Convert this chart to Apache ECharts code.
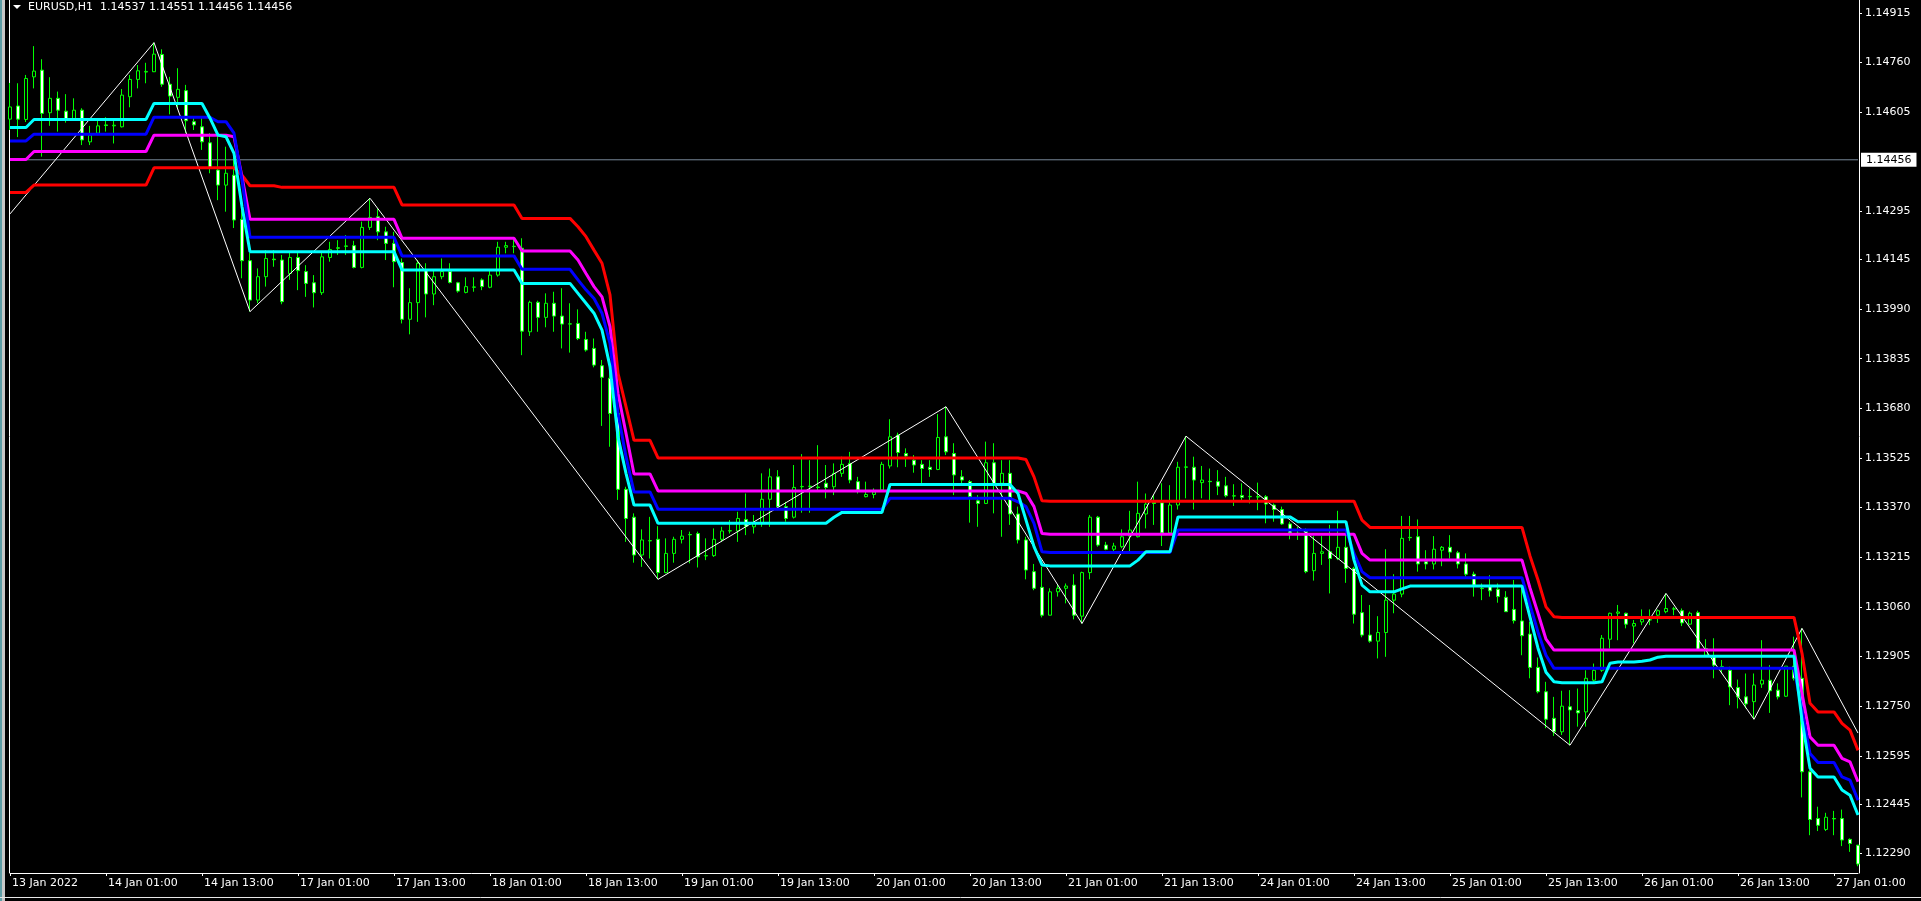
<!DOCTYPE html>
<html><head><meta charset="utf-8">
<script src="https://cdn.jsdelivr.net/npm/echarts/dist/echarts.min.js"></script>
<style>html,body{margin:0;padding:0;background:#000;overflow:hidden}#c{width:1921px;height:901px}</style>
</head><body><div id="c"></div>
<script>
const symbolName = 'EURUSD,H1';
const headerOHLC = [1.14537, 1.14551, 1.14456, 1.14456];
const bidPrice = 1.14456;
const xTickLabels = ['13 Jan 2022','14 Jan 01:00','14 Jan 13:00','17 Jan 01:00','17 Jan 13:00','18 Jan 01:00','18 Jan 13:00','19 Jan 01:00','19 Jan 13:00','20 Jan 01:00','20 Jan 13:00','21 Jan 01:00','21 Jan 13:00','24 Jan 01:00','24 Jan 13:00','25 Jan 01:00','25 Jan 13:00','26 Jan 01:00','26 Jan 13:00','27 Jan 01:00'];
const yTickValues = [1.14915,1.14760,1.14605,1.14295,1.14145,1.13990,1.13835,1.13680,1.13525,1.13370,1.13215,1.13060,1.12905,1.12750,1.12595,1.12445,1.12290];

const opens = [
1.14583,1.14624,1.14582,1.14715,1.14736,1.14603,1.14648,1.14608,1.14584,1.14611,
1.14512,1.14539,1.14565,1.14562,1.14559,1.14653,1.14707,1.14730,1.14731,1.14785,
1.14692,1.14651,1.14672,1.14575,1.14559,1.14509,1.14424,1.14377,1.14408,1.14270,
1.14141,1.14018,1.14091,1.14146,1.14143,1.14101,1.14151,1.14107,1.14072,1.14041,
1.14151,1.14181,1.14187,1.14188,1.14120,1.14245,1.14278,1.14231,1.14195,1.14135,
1.13958,1.14010,1.14112,1.14037,1.14091,1.14107,1.14072,1.14042,1.14058,1.14081,
1.14058,1.14096,1.14183,1.14185,1.14180,1.13919,1.14011,1.13964,1.14008,1.13968,
1.13943,1.13945,1.13895,1.13867,1.13813,1.13774,1.13664,1.13427,1.13340,1.13222,
1.13266,1.13271,1.13167,1.13227,1.13271,1.13286,1.13289,1.13220,1.13220,1.13271,
1.13297,1.13297,1.13333,1.13310,1.13321,1.13396,1.13466,1.13373,1.13340,1.13435,
1.13437,1.13434,1.13446,1.13435,1.13477,1.13508,1.13451,1.13404,1.13411,1.13425,
1.13500,1.13596,1.13539,1.13518,1.13505,1.13496,1.13489,1.13591,1.13539,1.13466,
1.13451,1.13391,1.13383,1.13510,1.13446,1.13477,1.13350,1.13269,1.13170,1.13121,
1.13034,1.13107,1.13118,1.13128,1.13031,1.13167,1.13340,1.13253,1.13240,1.13248,
1.13281,1.13279,1.13350,1.13386,1.13385,1.13291,1.13378,1.13496,1.13496,1.13448,
1.13452,1.13451,1.13438,1.13406,1.13408,1.13404,1.13404,1.13404,1.13378,1.13364,
1.13319,1.13289,1.13295,1.13173,1.13227,1.13232,1.13211,1.13246,1.13180,1.13042,
1.12972,1.12953,1.12980,1.13081,1.13100,1.13277,1.13279,1.13201,1.13194,1.13237,
1.13246,1.13229,1.13194,1.13162,1.13118,1.13126,1.13115,1.13090,1.13052,1.13016,
1.12975,1.12871,1.12795,1.12712,1.12670,1.12748,1.12736,1.12732,1.12831,1.12862,
1.12959,1.13040,1.13040,1.13000,1.13013,1.13019,1.13034,1.13045,1.13053,1.13048,
1.13006,1.13042,1.12909,1.12904,1.12873,1.12862,1.12808,1.12779,1.12764,1.12819,
1.12831,1.12800,1.12781,1.12875,1.12837,1.12545,1.12399,1.12365,1.12399,1.12399,
1.12334,1.12316];
const closes = [
1.14621,1.14583,1.14710,1.14733,1.14601,1.14648,1.14611,1.14584,1.14611,1.14518,
1.14533,1.14562,1.14563,1.14564,1.14658,1.14707,1.14734,1.14732,1.14786,1.14692,
1.14655,1.14676,1.14578,1.14565,1.14512,1.14429,1.14377,1.14414,1.14268,1.14141,
1.14018,1.14091,1.14148,1.14144,1.14013,1.14151,1.14110,1.14070,1.14041,1.14153,
1.14176,1.14180,1.14186,1.14120,1.14245,1.14276,1.14231,1.14195,1.14138,1.13958,
1.14010,1.14133,1.14037,1.14091,1.14107,1.14073,1.14046,1.14060,1.14059,1.14060,
1.14096,1.14183,1.14188,1.14186,1.13921,1.14011,1.13964,1.14008,1.13968,1.13943,
1.13944,1.13898,1.13862,1.13815,1.13777,1.13664,1.13427,1.13336,1.13222,1.13269,
1.13267,1.13167,1.13227,1.13271,1.13281,1.13285,1.13216,1.13219,1.13271,1.13297,
1.13298,1.13336,1.13312,1.13321,1.13396,1.13466,1.13373,1.13336,1.13433,1.13436,
1.13436,1.13433,1.13433,1.13477,1.13505,1.13456,1.13425,1.13411,1.13419,1.13505,
1.13591,1.13542,1.13531,1.13503,1.13492,1.13489,1.13589,1.13544,1.13472,1.13456,
1.13404,1.13383,1.13510,1.13444,1.13477,1.13350,1.13269,1.13175,1.13118,1.13034,
1.13107,1.13118,1.13125,1.13034,1.13167,1.13340,1.13253,1.13240,1.13250,1.13279,
1.13300,1.13352,1.13381,1.13383,1.13291,1.13378,1.13496,1.13497,1.13456,1.13456,
1.13451,1.13437,1.13407,1.13407,1.13402,1.13405,1.13403,1.13381,1.13364,1.13319,
1.13291,1.13290,1.13170,1.13227,1.13232,1.13211,1.13246,1.13180,1.13037,1.12972,
1.12953,1.12980,1.13081,1.13100,1.13274,1.13276,1.13194,1.13194,1.13240,1.13246,
1.13231,1.13194,1.13162,1.13128,1.13117,1.13110,1.13092,1.13045,1.13017,1.12970,
1.12871,1.12795,1.12709,1.12670,1.12750,1.12738,1.12729,1.12837,1.12862,1.12962,
1.13040,1.13044,1.13006,1.13008,1.13021,1.13020,1.13048,1.13055,1.13054,1.13010,
1.13040,1.12927,1.12930,1.12878,1.12874,1.12810,1.12779,1.12757,1.12816,1.12831,
1.12798,1.12779,1.12875,1.12837,1.12545,1.12396,1.12378,1.12403,1.12398,1.12332,
1.12321,1.12257];
const lows = [
1.14549,1.14527,1.14574,1.14679,1.14466,1.14562,1.14544,1.14572,1.14580,1.14502,
1.14502,1.14533,1.14544,1.14507,1.14557,1.14620,1.14679,1.14695,1.14730,1.14684,
1.14598,1.14614,1.14539,1.14549,1.14487,1.14414,1.14330,1.14294,1.14243,1.14086,
1.13982,1.14008,1.14060,1.14122,1.14005,1.14081,1.14049,1.14028,1.13995,1.14034,
1.14138,1.14159,1.14159,1.14117,1.14117,1.14237,1.14205,1.14143,1.14058,1.13945,
1.13911,1.13950,1.13964,1.14002,1.14083,1.14070,1.14041,1.14039,1.14044,1.14049,
1.14055,1.14091,1.14164,1.14164,1.13846,1.13906,1.13919,1.13933,1.13919,1.13867,
1.13854,1.13893,1.13857,1.13808,1.13625,1.13560,1.13394,1.13263,1.13198,1.13185,
1.13211,1.13146,1.13165,1.13198,1.13258,1.13196,1.13183,1.13206,1.13216,1.13263,
1.13289,1.13263,1.13284,1.13289,1.13310,1.13310,1.13362,1.13326,1.13336,1.13354,
1.13354,1.13425,1.13399,1.13409,1.13466,1.13446,1.13414,1.13402,1.13399,1.13425,
1.13492,1.13496,1.13497,1.13479,1.13446,1.13466,1.13487,1.13534,1.13409,1.13446,
1.13323,1.13310,1.13381,1.13352,1.13279,1.13316,1.13258,1.13146,1.13112,1.13027,
1.13034,1.13092,1.13071,1.13021,1.13008,1.13146,1.13248,1.13237,1.13227,1.13243,
1.13227,1.13277,1.13305,1.13316,1.13250,1.13284,1.13364,1.13399,1.13364,1.13399,
1.13393,1.13409,1.13402,1.13375,1.13393,1.13383,1.13362,1.13321,1.13326,1.13316,
1.13271,1.13269,1.13165,1.13142,1.13191,1.13102,1.13206,1.13135,1.13008,1.12965,
1.12948,1.12899,1.12904,1.13040,1.13090,1.13266,1.13170,1.13177,1.13177,1.13187,
1.13211,1.13180,1.13154,1.13092,1.13081,1.13092,1.13073,1.13045,1.13008,1.12909,
1.12837,1.12790,1.12681,1.12657,1.12660,1.12628,1.12686,1.12686,1.12826,1.12857,
1.12930,1.12956,1.12993,1.12946,1.13003,1.13003,1.13010,1.13040,1.13034,1.13000,
1.13003,1.12925,1.12904,1.12837,1.12852,1.12753,1.12743,1.12743,1.12709,1.12807,
1.12729,1.12771,1.12779,1.12830,1.12465,1.12347,1.12360,1.12360,1.12347,1.12313,
1.12295,1.12250];
const highs = [
1.14696,1.14695,1.14721,1.14811,1.14770,1.14714,1.14669,1.14661,1.14648,1.14617,
1.14562,1.14580,1.14589,1.14580,1.14677,1.14721,1.14752,1.14759,1.14822,1.14801,
1.14715,1.14742,1.14690,1.14586,1.14586,1.14539,1.14539,1.14497,1.14487,1.14330,
1.14165,1.14117,1.14174,1.14174,1.14159,1.14169,1.14169,1.14127,1.14096,1.14169,
1.14200,1.14205,1.14221,1.14203,1.14263,1.14336,1.14304,1.14247,1.14231,1.14148,
1.14055,1.14143,1.14133,1.14112,1.14148,1.14133,1.14075,1.14089,1.14089,1.14086,
1.14112,1.14200,1.14200,1.14208,1.14211,1.14016,1.14016,1.14039,1.14044,1.14055,
1.14008,1.13989,1.13919,1.13898,1.13831,1.13800,1.13665,1.13435,1.13352,1.13302,
1.13341,1.13312,1.13274,1.13279,1.13300,1.13295,1.13295,1.13274,1.13305,1.13310,
1.13331,1.13357,1.13414,1.13347,1.13477,1.13492,1.13487,1.13388,1.13503,1.13537,
1.13518,1.13565,1.13503,1.13508,1.13529,1.13544,1.13466,1.13451,1.13430,1.13513,
1.13646,1.13604,1.13555,1.13534,1.13518,1.13518,1.13662,1.13685,1.13571,1.13487,
1.13456,1.13409,1.13576,1.13571,1.13518,1.13518,1.13373,1.13279,1.13194,1.13185,
1.13118,1.13131,1.13133,1.13162,1.13170,1.13347,1.13344,1.13263,1.13260,1.13302,
1.13360,1.13451,1.13414,1.13409,1.13446,1.13440,1.13513,1.13593,1.13529,1.13500,
1.13492,1.13487,1.13466,1.13443,1.13446,1.13430,1.13448,1.13409,1.13383,1.13373,
1.13326,1.13310,1.13305,1.13281,1.13281,1.13316,1.13360,1.13289,1.13185,1.13097,
1.13066,1.13031,1.13240,1.13162,1.13344,1.13344,1.13333,1.13237,1.13281,1.13250,
1.13284,1.13235,1.13227,1.13170,1.13133,1.13159,1.13133,1.13109,1.13144,1.13118,
1.13013,1.12902,1.12826,1.12779,1.12798,1.12800,1.12805,1.12862,1.12883,1.12972,
1.13042,1.13066,1.13042,1.13019,1.13052,1.13052,1.13052,1.13102,1.13060,1.13055,
1.13045,1.13048,1.12959,1.12962,1.12894,1.12873,1.12833,1.12852,1.12852,1.12956,
1.12878,1.12821,1.12875,1.12967,1.12993,1.12550,1.12436,1.12417,1.12423,1.12427,
1.12337,1.12316];

const redLine = [
1.14354,1.14354,1.14354,1.14377,1.14377,1.14377,1.14377,1.14377,1.14377,1.14377,
1.14377,1.14377,1.14377,1.14377,1.14377,1.14377,1.14377,1.14377,1.14431,1.14431,
1.14431,1.14431,1.14431,1.14431,1.14431,1.14431,1.14431,1.14431,1.14431,1.14408,
1.14375,1.14375,1.14375,1.14375,1.14370,1.14370,1.14370,1.14370,1.14370,1.14370,
1.14370,1.14370,1.14370,1.14370,1.14370,1.14370,1.14370,1.14370,1.14370,1.14315,
1.14315,1.14315,1.14315,1.14315,1.14315,1.14315,1.14315,1.14315,1.14315,1.14315,
1.14315,1.14315,1.14315,1.14315,1.14273,1.14273,1.14273,1.14273,1.14273,1.14273,
1.14273,1.14247,1.14216,1.14174,1.14133,1.14034,1.13789,1.13685,1.13580,1.13580,
1.13580,1.13525,1.13525,1.13525,1.13525,1.13525,1.13525,1.13525,1.13525,1.13525,
1.13525,1.13525,1.13525,1.13525,1.13525,1.13525,1.13525,1.13525,1.13525,1.13525,
1.13525,1.13525,1.13525,1.13525,1.13525,1.13525,1.13525,1.13525,1.13525,1.13525,
1.13525,1.13525,1.13525,1.13525,1.13525,1.13525,1.13525,1.13525,1.13525,1.13525,
1.13525,1.13525,1.13525,1.13525,1.13525,1.13525,1.13525,1.13520,1.13466,1.13391,
1.13390,1.13390,1.13390,1.13390,1.13390,1.13390,1.13390,1.13390,1.13390,1.13390,
1.13390,1.13390,1.13390,1.13390,1.13390,1.13390,1.13390,1.13390,1.13390,1.13390,
1.13390,1.13390,1.13390,1.13390,1.13390,1.13390,1.13390,1.13390,1.13390,1.13390,
1.13390,1.13390,1.13390,1.13390,1.13390,1.13390,1.13390,1.13390,1.13390,1.13331,
1.13308,1.13308,1.13308,1.13308,1.13308,1.13308,1.13308,1.13308,1.13308,1.13308,
1.13308,1.13308,1.13308,1.13308,1.13308,1.13308,1.13308,1.13308,1.13308,1.13308,
1.13219,1.13144,1.13060,1.13029,1.13027,1.13027,1.13027,1.13027,1.13027,1.13027,
1.13027,1.13027,1.13027,1.13027,1.13027,1.13027,1.13027,1.13027,1.13027,1.13027,
1.13027,1.13027,1.13027,1.13027,1.13027,1.13027,1.13027,1.13027,1.13027,1.13027,
1.13027,1.13027,1.13027,1.13027,1.12915,1.12759,1.12732,1.12732,1.12732,1.12696,
1.12675,1.12612];
const magentaLine = [
1.14457,1.14457,1.14457,1.14482,1.14482,1.14482,1.14482,1.14482,1.14482,1.14482,
1.14482,1.14482,1.14482,1.14482,1.14482,1.14482,1.14482,1.14482,1.14533,1.14533,
1.14533,1.14533,1.14533,1.14533,1.14533,1.14533,1.14533,1.14533,1.14528,1.14403,
1.14270,1.14270,1.14270,1.14270,1.14270,1.14270,1.14270,1.14270,1.14270,1.14270,
1.14270,1.14270,1.14270,1.14270,1.14270,1.14270,1.14270,1.14270,1.14270,1.14211,
1.14211,1.14211,1.14211,1.14211,1.14211,1.14211,1.14211,1.14211,1.14211,1.14211,
1.14211,1.14211,1.14211,1.14211,1.14171,1.14171,1.14171,1.14171,1.14171,1.14171,
1.14171,1.14143,1.14101,1.14060,1.14028,1.13935,1.13727,1.13602,1.13475,1.13475,
1.13475,1.13422,1.13422,1.13422,1.13422,1.13422,1.13422,1.13422,1.13422,1.13422,
1.13422,1.13422,1.13422,1.13422,1.13422,1.13422,1.13422,1.13422,1.13422,1.13422,
1.13422,1.13422,1.13422,1.13422,1.13422,1.13422,1.13422,1.13422,1.13422,1.13422,
1.13422,1.13422,1.13422,1.13422,1.13422,1.13422,1.13422,1.13422,1.13422,1.13422,
1.13422,1.13422,1.13422,1.13422,1.13422,1.13422,1.13422,1.13414,1.13373,1.13289,
1.13287,1.13287,1.13287,1.13287,1.13287,1.13287,1.13287,1.13287,1.13287,1.13287,
1.13287,1.13287,1.13287,1.13287,1.13287,1.13287,1.13287,1.13287,1.13287,1.13287,
1.13287,1.13287,1.13287,1.13287,1.13287,1.13287,1.13287,1.13287,1.13287,1.13287,
1.13287,1.13287,1.13287,1.13287,1.13287,1.13287,1.13287,1.13287,1.13287,1.13227,
1.13206,1.13206,1.13206,1.13206,1.13206,1.13206,1.13206,1.13206,1.13206,1.13206,
1.13206,1.13206,1.13206,1.13206,1.13206,1.13206,1.13206,1.13206,1.13206,1.13206,
1.13119,1.13040,1.12959,1.12925,1.12925,1.12925,1.12925,1.12925,1.12925,1.12925,
1.12925,1.12925,1.12925,1.12925,1.12925,1.12925,1.12925,1.12925,1.12925,1.12925,
1.12925,1.12925,1.12925,1.12925,1.12925,1.12925,1.12925,1.12925,1.12925,1.12925,
1.12925,1.12925,1.12925,1.12925,1.12790,1.12654,1.12628,1.12628,1.12628,1.12587,
1.12576,1.12514];
const blueLine = [
1.14515,1.14515,1.14515,1.14536,1.14536,1.14536,1.14536,1.14536,1.14536,1.14536,
1.14536,1.14536,1.14536,1.14536,1.14536,1.14536,1.14536,1.14536,1.14589,1.14589,
1.14589,1.14589,1.14589,1.14589,1.14589,1.14589,1.14575,1.14575,1.14539,1.14393,
1.14214,1.14214,1.14214,1.14214,1.14214,1.14214,1.14214,1.14214,1.14214,1.14214,
1.14214,1.14214,1.14214,1.14214,1.14214,1.14214,1.14214,1.14214,1.14214,1.14156,
1.14156,1.14156,1.14156,1.14156,1.14156,1.14156,1.14156,1.14156,1.14156,1.14156,
1.14156,1.14156,1.14156,1.14156,1.14114,1.14114,1.14114,1.14114,1.14114,1.14114,
1.14114,1.14081,1.14050,1.14023,1.13977,1.13883,1.13664,1.13529,1.13419,1.13419,
1.13419,1.13365,1.13365,1.13365,1.13365,1.13365,1.13365,1.13365,1.13365,1.13365,
1.13365,1.13365,1.13365,1.13365,1.13365,1.13365,1.13365,1.13365,1.13365,1.13365,
1.13365,1.13365,1.13365,1.13365,1.13365,1.13365,1.13365,1.13365,1.13365,1.13365,
1.13399,1.13399,1.13399,1.13399,1.13399,1.13399,1.13399,1.13399,1.13399,1.13399,
1.13399,1.13399,1.13399,1.13399,1.13399,1.13399,1.13388,1.13373,1.13321,1.13232,
1.13230,1.13230,1.13230,1.13230,1.13230,1.13230,1.13230,1.13230,1.13230,1.13230,
1.13230,1.13230,1.13230,1.13230,1.13230,1.13230,1.13300,1.13300,1.13300,1.13300,
1.13300,1.13300,1.13300,1.13300,1.13300,1.13300,1.13300,1.13300,1.13300,1.13300,
1.13300,1.13300,1.13300,1.13300,1.13300,1.13300,1.13300,1.13300,1.13227,1.13170,
1.13151,1.13151,1.13151,1.13151,1.13151,1.13151,1.13151,1.13151,1.13151,1.13151,
1.13151,1.13151,1.13151,1.13151,1.13151,1.13151,1.13151,1.13151,1.13151,1.13151,
1.13066,1.12981,1.12909,1.12868,1.12868,1.12868,1.12868,1.12868,1.12868,1.12868,
1.12868,1.12868,1.12868,1.12868,1.12868,1.12868,1.12868,1.12868,1.12868,1.12868,
1.12868,1.12868,1.12868,1.12868,1.12868,1.12868,1.12868,1.12868,1.12868,1.12868,
1.12868,1.12868,1.12868,1.12868,1.12738,1.12602,1.12574,1.12574,1.12574,1.12529,
1.12519,1.12456];
const cyanLine = [
1.14557,1.14557,1.14557,1.14582,1.14582,1.14582,1.14582,1.14582,1.14582,1.14582,
1.14582,1.14582,1.14582,1.14582,1.14582,1.14582,1.14582,1.14582,1.14632,1.14632,
1.14632,1.14632,1.14632,1.14632,1.14632,1.14586,1.14533,1.14528,1.14476,1.14310,
1.14169,1.14169,1.14169,1.14169,1.14169,1.14169,1.14169,1.14169,1.14169,1.14169,
1.14169,1.14169,1.14169,1.14169,1.14169,1.14169,1.14169,1.14169,1.14169,1.14112,
1.14112,1.14112,1.14112,1.14112,1.14112,1.14112,1.14112,1.14112,1.14112,1.14112,
1.14112,1.14112,1.14112,1.14112,1.14070,1.14070,1.14070,1.14070,1.14070,1.14070,
1.14070,1.14039,1.14008,1.13977,1.13924,1.13810,1.13591,1.13477,1.13378,1.13378,
1.13378,1.13321,1.13321,1.13321,1.13321,1.13321,1.13321,1.13321,1.13321,1.13321,
1.13321,1.13321,1.13321,1.13321,1.13321,1.13321,1.13321,1.13321,1.13321,1.13321,
1.13321,1.13321,1.13321,1.13340,1.13355,1.13355,1.13355,1.13355,1.13355,1.13355,
1.13442,1.13442,1.13442,1.13442,1.13442,1.13442,1.13442,1.13442,1.13442,1.13442,
1.13442,1.13442,1.13442,1.13442,1.13442,1.13442,1.13414,1.13331,1.13248,1.13191,
1.13188,1.13188,1.13188,1.13188,1.13188,1.13188,1.13188,1.13188,1.13188,1.13188,
1.13188,1.13206,1.13232,1.13232,1.13232,1.13232,1.13341,1.13341,1.13341,1.13341,
1.13341,1.13341,1.13341,1.13341,1.13341,1.13341,1.13341,1.13341,1.13341,1.13341,
1.13341,1.13326,1.13326,1.13326,1.13326,1.13326,1.13326,1.13326,1.13206,1.13128,
1.13107,1.13107,1.13107,1.13107,1.13116,1.13125,1.13125,1.13125,1.13125,1.13125,
1.13125,1.13125,1.13125,1.13125,1.13125,1.13125,1.13125,1.13125,1.13125,1.13125,
1.13028,1.12931,1.12856,1.12826,1.12823,1.12823,1.12823,1.12823,1.12823,1.12826,
1.12884,1.12888,1.12888,1.12888,1.12890,1.12894,1.12903,1.12906,1.12906,1.12906,
1.12906,1.12906,1.12906,1.12906,1.12906,1.12906,1.12906,1.12906,1.12906,1.12906,
1.12906,1.12906,1.12906,1.12906,1.12706,1.12556,1.12529,1.12529,1.12529,1.12488,
1.12472,1.12410];

const zigzagBars = [0, 18, 30, 45, 81, 117, 134, 147, 195, 207, 218, 224, 231];
const zigzagPrices = [1.14287, 1.14822, 1.13982, 1.14336, 1.13146, 1.13685, 1.13008, 1.13593, 1.12628, 1.13102, 1.12709, 1.12993, 1.12666];

// hourly bar times (weekends skipped), starting 13 Jan 2022 13:00
const categories = [];
(function(){
  let t = Date.UTC(2022, 0, 13, 13);
  while (categories.length < opens.length) {
    const d = new Date(t);
    const wd = d.getUTCDay();
    if (wd !== 0 && wd !== 6) {
      categories.push(d.getUTCDate() + ' Jan ' + String(d.getUTCHours()).padStart(2, '0') + ':00');
    }
    t += 3600000;
  }
})();

const Y_MIN = 1.12229, Y_MAX = 1.14955;
const candleData = opens.map((o, i) => [o, closes[i], lows[i], highs[i]]);
const zigzagData = zigzagBars.map((b, k) => [b, zigzagPrices[k]]);
const bidData = [[0, bidPrice], [categories.length - 1, bidPrice]];
const FONT = '"DejaVu Sans", "Liberation Sans", sans-serif';

const chart = echarts.init(document.getElementById('c'), null, {renderer: 'canvas'});
const lineSeries = (name, data, color) => ({
  name, type: 'line', data, showSymbol: false, symbol: 'none', silent: true,
  lineStyle: {color, width: 3}, itemStyle: {color}, animation: false
});
chart.setOption({
  backgroundColor: '#000000',
  animation: false,
  grid: {left: 10, right: 63, top: 0, bottom: 28},
  xAxis: {
    type: 'category', data: categories, boundaryGap: false,
    axisLine: {show: true, lineStyle: {color: '#ffffff', width: 1}},
    axisTick: {show: true, interval: 11, length: 3, lineStyle: {color: '#ffffff'}},
    axisLabel: {
      interval: 11, color: '#ffffff', fontSize: 11, fontFamily: FONT, align: 'left', margin: 5,
      padding: [0, 0, 0, 2],
      formatter: (v, i) => xTickLabels[Math.round(i / 12)] || ''
    },
    splitLine: {show: false}
  },
  yAxis: {
    type: 'value', position: 'right', offset: 1, min: Y_MIN, max: Y_MAX, scale: true,
    splitLine: {show: false},
    axisLine: {show: true, lineStyle: {color: '#ffffff', width: 1}},
    axisTick: {show: true, length: 3, lineStyle: {color: '#ffffff'}, customValues: yTickValues},
    axisLabel: {color: '#ffffff', fontSize: 11, fontFamily: FONT, margin: 6, customValues: yTickValues,
      formatter: v => v.toFixed(5)}
  },
  series: [
    {
      type: 'line', data: bidData, showSymbol: false, symbol: 'none', silent: true, z: 1,
      lineStyle: {color: '#778899', width: 1},
      endLabel: {show: true, distance: 3, formatter: () => bidPrice.toFixed(5),
        color: '#000000', backgroundColor: '#ffffff', padding: [2, 5, 1, 5], fontSize: 11, fontFamily: FONT}
    },
    {
      type: 'candlestick', data: candleData, barWidth: 4, silent: true, z: 2,
      itemStyle: {color: '#000000', color0: '#ffffff', borderColor: '#00ff00', borderColor0: '#00ff00',
        borderColorDoji: '#00ff00', borderWidth: 1}
    },
    {type: 'line', data: zigzagData, showSymbol: false, symbol: 'none', silent: true, z: 3,
      lineStyle: {color: '#ffffff', width: 1}},
    Object.assign(lineSeries('red', redLine, '#ff0000'), {z: 4}),
    Object.assign(lineSeries('magenta', magentaLine, '#ff00ff'), {z: 4}),
    Object.assign(lineSeries('blue', blueLine, '#0000ff'), {z: 4}),
    Object.assign(lineSeries('cyan', cyanLine, '#00ffff'), {z: 4})
  ],
  graphic: [
    {type: 'rect', left: 0, top: 0, shape: {width: 2, height: 901}, style: {fill: '#5f9ea6'}, silent: true},
    {type: 'rect', left: 2, top: 0, shape: {width: 3, height: 901}, style: {fill: '#c8c8c8'}, silent: true},
    {type: 'line', shape: {x1: 9.5, y1: 0, x2: 9.5, y2: 873}, style: {stroke: '#ffffff', lineWidth: 1}, silent: true},
    {type: 'line', shape: {x1: 0, y1: 897.5, x2: 1921, y2: 897.5}, style: {stroke: '#e8e8e8', lineWidth: 1}, silent: true},
    {type: 'polygon', shape: {points: [[13, 5], [21, 5], [17, 9]]}, style: {fill: '#ffffff'}, silent: true},
    {type: 'text', left: 28, top: 2, silent: true,
      style: {text: symbolName + '  ' + headerOHLC.map(v => v.toFixed(5)).join(' '),
        fill: '#ffffff', font: '11px ' + FONT}}
  ]
});
</script>
</body></html>
